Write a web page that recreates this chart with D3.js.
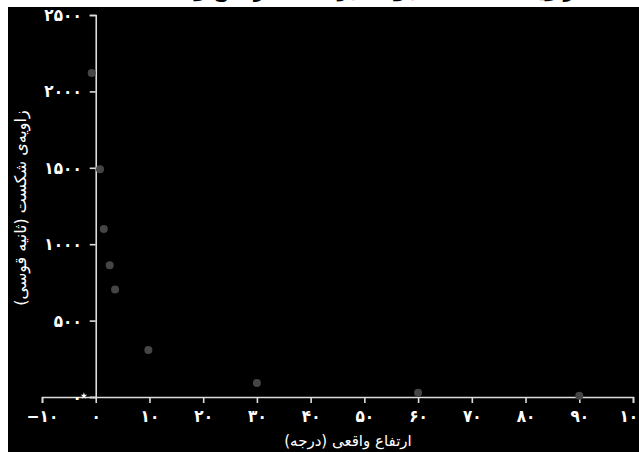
<!DOCTYPE html>
<html>
<head>
<meta charset="utf-8">
<script src="https://cdn.jsdelivr.net/npm/d3@7"></script>
<style>
  html, body { margin: 0; padding: 0; background: #fff; }
  svg { display: block; }
  text { font-family: "DejaVu Sans", sans-serif; }
</style>
</head>
<body>
<svg id="chart"></svg>
<script>
// data
const altitudes = [-0.75, 0.8, 1.5, 2.6, 3.6, 9.8, 30, 60, 90];
const refraction = [2120, 1490, 1100, 862, 703, 308, 92, 28, 8];
const extraPoint = [-2.2, 8];
const xTicks = [-10, 0, 10, 20, 30, 40, 50, 60, 70, 80, 90, 100];
const yTicks = [0, 500, 1000, 1500, 2000, 2500];

const titleText = "زاویه‌ی شکست نجومی بر حسب ارتفاع واقعی";
const xLabel = "ارتفاع واقعی (درجه)";
const yLabel = "زاویه‌ی شکست (ثانیه قوسی)";

const width = 639, height = 452;
const persian = "۰۱۲۳۴۵۶۷۸۹";
function toFa(n) {
    const s = String(Math.abs(n)).replace(/\d/g, d => persian[d]);
    return n < 0 ? "\u2212" + s : s;
}

const svg = d3.select("#chart").attr("width", width).attr("height", height);

svg.append("rect").attr("width", width).attr("height", height).attr("fill", "#fff");
svg.append("rect").attr("x", 8).attr("y", 7)
    .attr("width", width - 8).attr("height", height - 7).attr("fill", "#000");

// title sits mostly above the visible area
svg.append("text")
    .attr("x", 360).attr("y", -3)
    .attr("text-anchor", "middle")
    .attr("direction", "rtl")
    .style("font-size", "19px").style("font-weight", "bold")
    .attr("fill", "#000")
    .text(titleText);

const xScale = d3.scaleLinear().domain([-10, 100]).range([42, 633]);
const yScale = d3.scaleLinear().domain([0, 2500]).range([397, 15]);

const xAxis = svg.append("g")
    .attr("transform", `translate(0, ${yScale(0)})`)
    .call(d3.axisBottom(xScale).tickValues(xTicks).tickFormat(toFa).tickSizeOuter(0).tickSize(6).tickPadding(7));

const yAxis = svg.append("g")
    .attr("transform", `translate(${xScale(0)}, 0)`)
    .call(d3.axisLeft(yScale).tickValues(yTicks).tickFormat(toFa).tickSizeOuter(0).tickSize(6).tickPadding(8));

[xAxis, yAxis].forEach(g => {
    g.select(".domain").attr("stroke", "#ddd").attr("stroke-width", 1.6);
    g.selectAll(".tick line").attr("stroke", "#ddd").attr("stroke-width", 1.6);
    g.selectAll(".tick text")
        .attr("fill", "#fff")
        .style("font-size", "17px").style("font-weight", "bold")
        .style("font-family", "'DejaVu Sans Condensed', 'DejaVu Sans', sans-serif");
});
yAxis.selectAll(".tick text").attr("direction", "ltr");

const pts = altitudes.map((a, i) => ({ x: a, y: refraction[i] }));
svg.append("g").selectAll("circle")
    .data(pts)
    .enter()
    .append("circle")
    .attr("cx", d => xScale(d.x))
    .attr("cy", d => yScale(d.y))
    .attr("r", 4)
    .attr("fill", "#454545");

svg.append("path")
    .attr("d", d3.symbol().type(d3.symbolStar).size(14)())
    .attr("transform", `translate(${xScale(extraPoint[0])}, ${yScale(extraPoint[1])})`)
    .attr("fill", "#fff");

svg.append("text")
    .attr("x", 348).attr("y", 446)
    .attr("text-anchor", "middle")
    .attr("direction", "rtl")
    .attr("fill", "#fff")
    .style("font-size", "15px")
    .text(xLabel);

svg.append("text")
    .attr("transform", `translate(26, 208) rotate(-90)`)
    .attr("text-anchor", "middle")
    .attr("direction", "rtl")
    .attr("fill", "#fff")
    .style("font-size", "16px")
    .text(yLabel);
</script>
</body>
</html>
